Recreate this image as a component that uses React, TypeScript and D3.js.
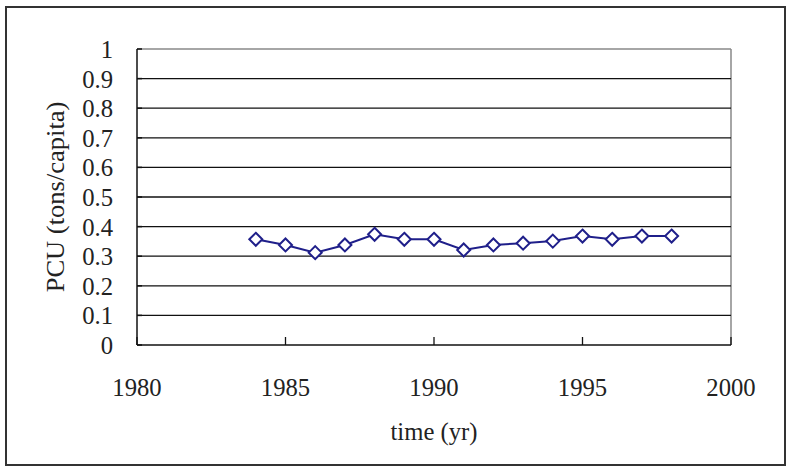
import React from "react";
import * as d3 from "d3";

const years = [1984, 1985, 1986, 1987, 1988, 1989, 1990, 1991, 1992, 1993, 1994, 1995, 1996, 1997, 1998];
const pcu = [0.357, 0.338, 0.312, 0.338, 0.374, 0.357, 0.357, 0.321, 0.338, 0.344, 0.351, 0.368, 0.357, 0.368, 0.368];
const xTicks = [1980, 1985, 1990, 1995, 2000];
const yTicks = [0, 0.1, 0.2, 0.3, 0.4, 0.5, 0.6, 0.7, 0.8, 0.9, 1];

const W = 794;
const H = 469;
const FONT = "Liberation Serif";
const FS = 26;
const SX = 0.95;

export default function App() {
  const x = d3.scaleLinear().domain([1980, 2000]).range([137, 731]);
  const y = d3.scaleLinear().domain([0, 1]).range([345, 49]);
  const line = d3
    .line<number>()
    .x((_, i) => x(years[i]))
    .y((d) => y(d));
  const diamond = (cx: number, cy: number, r: number) =>
    `M${cx},${cy - r}L${cx + r},${cy}L${cx},${cy + r}L${cx - r},${cy}Z`;

  return (
    <svg
      width={W}
      height={H}
      style={{ position: "absolute", left: 0, top: 0, background: "#fff" }}
    >
      <rect x={6} y={7} width={779} height={458} fill="#fff" stroke="#333" strokeWidth={2} />
      <line x1={x(1980)} x2={x(2000)} y1={y(1)} y2={y(1)} stroke="#888" strokeWidth={1.5} />
      <line x1={x(2000)} x2={x(2000)} y1={y(1)} y2={y(0)} stroke="#888" strokeWidth={1.5} />
      {yTicks.slice(1, -1).map((t) => (
        <line key={t} x1={x(1980)} x2={x(2000)} y1={y(t)} y2={y(t)} stroke="#111" strokeWidth={1.3} />
      ))}
      <line x1={x(1980)} x2={x(1980)} y1={y(1)} y2={y(0)} stroke="#111" strokeWidth={1.5} />
      <line x1={x(1980)} x2={x(2000)} y1={y(0)} y2={y(0)} stroke="#111" strokeWidth={1.5} />
      {yTicks.map((t) => (
        <line key={"yt" + t} x1={x(1980)} x2={x(1980) + 5} y1={y(t)} y2={y(t)} stroke="#111" strokeWidth={1.5} />
      ))}
      {xTicks.map((t) => (
        <line key={"xt" + t} x1={x(t)} x2={x(t)} y1={y(0)} y2={y(0) - 8} stroke="#111" strokeWidth={1.3} />
      ))}
      {yTicks.map((t) => (
        <text
          key={"yl" + t}
          transform={`translate(113,${y(t) + 9}) scale(${SX},1)`}
          textAnchor="end"
          fontFamily={FONT}
          fontSize={FS}
          fill="#222"
        >
          {t === 0 || t === 1 ? String(t) : t.toFixed(1)}
        </text>
      ))}
      {xTicks.map((t) => (
        <text
          key={"xl" + t}
          transform={`translate(${x(t)},396) scale(${SX},1)`}
          textAnchor="middle"
          fontFamily={FONT}
          fontSize={FS}
          fill="#222"
        >
          {t}
        </text>
      ))}
      <text
        transform={`translate(434,440) scale(${SX},1)`}
        textAnchor="middle"
        fontFamily={FONT}
        fontSize={FS}
        fill="#222"
      >
        time (yr)
      </text>
      <text
        transform={`translate(64,${y(0.5)}) rotate(-90) scale(1.02,1)`}
        textAnchor="middle"
        fontFamily={FONT}
        fontSize={FS}
        fill="#222"
      >
        PCU (tons/capita)
      </text>
      <path d={line(pcu) || ""} fill="none" stroke="#1f1f8a" strokeWidth={2} />
      {pcu.map((v, i) => (
        <path
          key={"m" + i}
          d={diamond(x(years[i]), y(v), 6.5)}
          fill="#fff"
          stroke="#1f1f8a"
          strokeWidth={2}
        />
      ))}
    </svg>
  );
}
